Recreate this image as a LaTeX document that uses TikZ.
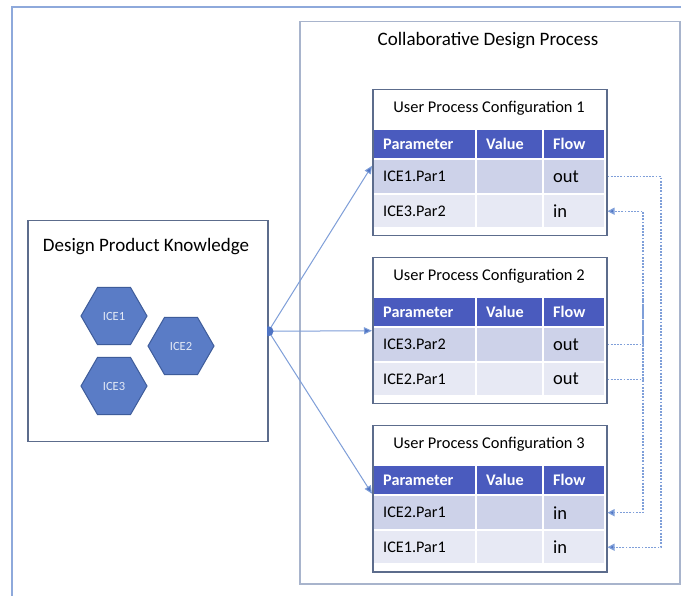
\documentclass[tikz,border=0pt]{standalone}
\usepackage{fontspec}
\setmainfont{Carlito}
\usetikzlibrary{shapes.geometric,arrows.meta,calc}
\definecolor{frameblue}{HTML}{8EA9DB}
\definecolor{collabgray}{HTML}{A8B4CC}
\definecolor{boxgray}{HTML}{5C6C8C}
\definecolor{hdr}{HTML}{4A5BBE}
\definecolor{rowa}{HTML}{CDD2E9}
\definecolor{rowb}{HTML}{E7E9F4}
\definecolor{hexfill}{HTML}{5A7CC6}
\definecolor{hexline}{HTML}{3E5C9A}
\definecolor{hextext}{HTML}{E4EAF6}
\definecolor{conn}{HTML}{7E9ED8}
\definecolor{dotc}{HTML}{7F9FD9}
\definecolor{tipc}{HTML}{4F74C4}
\tikzset{
  frame/.style={draw=frameblue, line width=2pt},
  collabbox/.style={draw=collabgray, line width=1.5pt, fill=white, inner sep=0},
  dpkbox/.style={draw=boxgray, line width=1.5pt, fill=white, inner sep=0},
  upcbox/.style={draw=boxgray, line width=1.5pt, fill=white, inner sep=0, minimum width=234, minimum height=146},
  bigtitle/.style={font=\fontsize{19}{22}\selectfont, text=black},
  upctitle/.style={font=\fontsize{16.4}{19}\selectfont, text=black},
  cell/.style={anchor=north west, inner xsep=9pt, inner ysep=0pt, align=left, font=\fontsize{16.2}{18}\selectfont},
  hdrcell/.style={cell, fill=hdr, text=white, font=\fontsize{16.2}{18}\selectfont\bfseries, minimum height=28},
  rowacell/.style={cell, fill=rowa, minimum height=33},
  rowbcell/.style={cell, fill=rowb, minimum height=32},
  colA/.style={text width=83pt},
  colB/.style={text width=47pt},
  colC/.style={text width=42pt},
  flowtxt/.style={font=\fontsize{18.5}{20}\selectfont},
  hexnode/.style={regular polygon, regular polygon sides=6, minimum size=66pt, inner sep=0, fill=hexfill, draw=hexline, line width=1pt, text=hextext, font=\fontsize{12.5}{14}\selectfont},
  conn/.style={draw=conn, line width=1pt, -{Triangle[length=8pt,width=7pt,fill=tipc]}},
  dotconn/.style={draw=dotc, line width=1.3pt, dash pattern=on 1.8pt off 1.4pt, -{Triangle[length=7pt,width=7pt,fill=tipc]}},
}
\begin{document}
\begin{tikzpicture}[x=1pt,y=-1pt]
\useasboundingbox (0,0) rectangle (681,596);
% outer frame (cut off at the picture edges)
\draw[frame] (12,596) -- (12,7) -- (681,7);
% collaborative design process
\node[collabbox, anchor=north west, minimum width=380, minimum height=562] (collab) at (299,21) {};
\node[bigtitle] (collabtitle) at (488,41) {Collaborative Design Process};
% design product knowledge
\node[dpkbox, anchor=north west, minimum width=240, minimum height=221] (dpk) at (27,220) {};
\node[bigtitle] (dpktitle) at (146,247) {Design Product Knowledge};
\node[hexnode] (ice1) at (114,316) {ICE1};
\node[hexnode] (ice2) at (181,346) {ICE2};
\node[hexnode] (ice3) at (114,386) {ICE3};
% user process configurations
\foreach \i/\T/\pa/\fa/\pb/\fb in {1/89/ICE1.Par1/out/ICE3.Par2/in, 2/257/ICE3.Par2/out/ICE2.Par1/out, 3/425/ICE2.Par1/in/ICE1.Par1/in}{
  \node[upcbox, anchor=north west] (upc\i) at (372,\T) {};
  \node[upctitle] (upct\i) at (489,\T+19) {User Process Configuration \i};
  \node[hdrcell, colA] (c\i-0-1) at (374,\T+41) {Parameter};
  \node[hdrcell, colB] (c\i-0-2) at (477,\T+41) {Value};
  \node[hdrcell, colC] (c\i-0-3) at (544,\T+41) {Flow};
  \node[rowacell, colA] (c\i-1-1) at (374,\T+71) {\pa};
  \node[rowacell, colB] (c\i-1-2) at (477,\T+71) {};
  \node[rowacell, colC, flowtxt] (c\i-1-3) at (544,\T+71) {\fa};
  \node[rowbcell, colA] (c\i-2-1) at (374,\T+106) {\pb};
  \node[rowbcell, colB] (c\i-2-2) at (477,\T+106) {};
  \node[rowbcell, colC, flowtxt] (c\i-2-3) at (544,\T+106) {\fb};
}
% hub and connectors
\draw[conn] (dpk.east) -- ([yshift=-3pt]upc1.west);
\draw[conn] (dpk.east) -- (upc2.west);
\draw[conn] (dpk.east) -- ([yshift=5pt]upc3.west);
\begin{scope}
  \clip (267,320) rectangle (280,340);
  \fill[tipc] (dpk.east) circle (5pt);
\end{scope}
% dotted data flows
\coordinate (outerx) at (661,300);
\coordinate (innerx) at (643,300);
\draw[dotconn] (upc1.east |- c1-1-3) -| (outerx) |- (upc3.east |- c3-2-3);
\draw[dotconn] (upc2.east |- c2-1-3) -| (innerx) |- (upc1.east |- c1-2-3);
\draw[dotconn] (upc2.east |- c2-2-3) -| (innerx) |- (upc3.east |- c3-1-3);
\end{tikzpicture}
\end{document}
